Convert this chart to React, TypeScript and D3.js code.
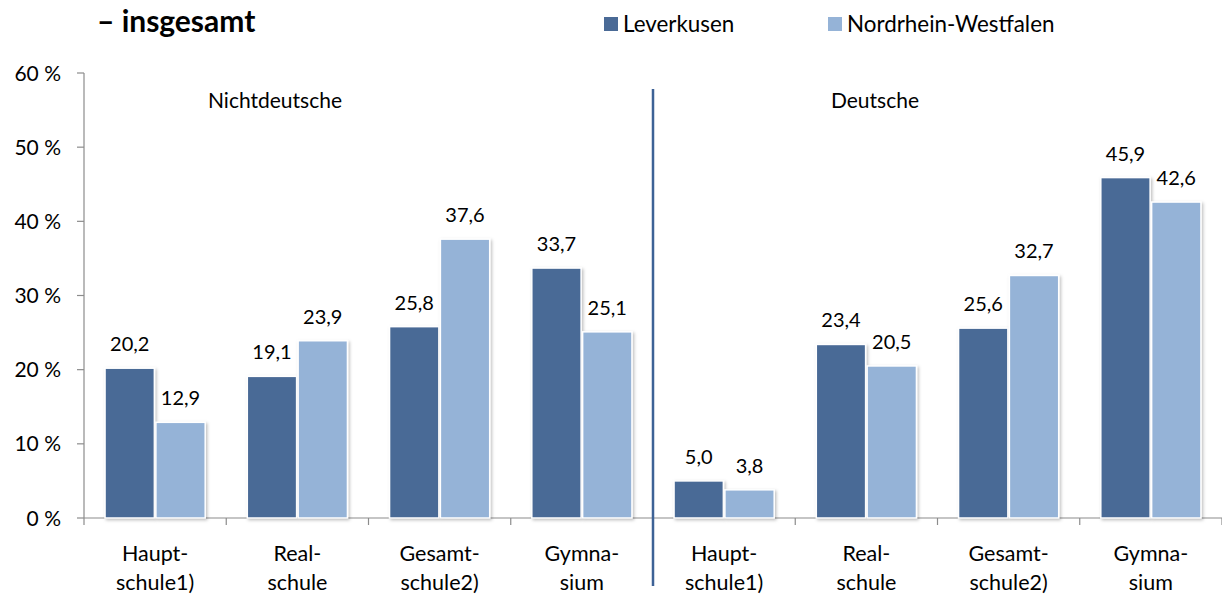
import React from "react";
import * as d3 from "d3";

const categories = ["Haupt-|schule1)", "Real-|schule", "Gesamt-|schule2)", "Gymna-|sium", "Haupt-|schule1)", "Real-|schule", "Gesamt-|schule2)", "Gymna-|sium"];
const leverkusen = [20.2, 19.1, 25.8, 33.7, 5.0, 23.4, 25.6, 45.9];
const nrw = [12.9, 23.9, 37.6, 25.1, 3.8, 20.5, 32.7, 42.6];
const seriesNames = ["Leverkusen", "Nordrhein-Westfalen"];
const yTicks = [0, 10, 20, 30, 40, 50, 60];
const sections = ["Nichtdeutsche", "Deutsche"];
const title = "– insgesamt";

const W = 1222, H = 594;
const colors = ["#4a6a96", "#95b3d7"];
const FONT = "Lato, 'Open Sans', sans-serif";

export default function App() {
  const left = 84, right = 1222, top = 73, bottom = 518;
  const x = d3.scaleBand<number>().domain(d3.range(categories.length)).range([left, right]).paddingInner(0).paddingOuter(0);
  const y = d3.scaleLinear().domain([0, 60]).range([bottom, top]);
  const bwAll = x.bandwidth();
  const inner = d3.scaleBand<number>().domain([0, 1]).range([bwAll * 0.148, bwAll * 0.852]).paddingInner(0.03).paddingOuter(0);
  const series = [leverkusen, nrw];
  const fmt = (v: number) => v.toFixed(1).replace(".", ",");
  const sepX = x(4)!;
  return (
    <svg width={W} height={H} style={{ position: "absolute", left: 0, top: 0, background: "#fff" }} fontFamily={FONT}>
      <defs>
        <filter id="sh" x="-10%" y="-10%" width="130%" height="130%">
          <feDropShadow dx="1.5" dy="1.5" stdDeviation="1.5" floodColor="#000" floodOpacity="0.25" />
        </filter>
      </defs>
      <text x={97} y={32} fontSize={30} fontWeight="bold" fill="#000">{title}</text>
      {seriesNames.map((s, i) => {
        const lx = i === 0 ? 604 : 828;
        return (
          <g key={s}>
            <rect x={lx} y={17} width={14} height={14} fill={colors[i]} />
            <text x={lx + 19} y={32} fontSize={22.4} fill="#000">{s}</text>
          </g>
        );
      })}
      {/* y axis */}
      <line x1={left} x2={left} y1={top} y2={bottom} stroke="#8c8c8c" strokeWidth={1.2} />
      {yTicks.map((t) => (
        <g key={t}>
          <line x1={left - 7} x2={left} y1={y(t)} y2={y(t)} stroke="#8c8c8c" strokeWidth={1.2} />
          <text x={61} y={y(t)} dy="0.36em" textAnchor="end" fontSize={21} fill="#000">{t} %</text>
        </g>
      ))}
      {/* x axis */}
      <line x1={left} x2={right} y1={bottom} y2={bottom} stroke="#8c8c8c" strokeWidth={1.2} />
      {d3.range(categories.length + 1).map((i) => (
        <line key={i} x1={left + i * bwAll} x2={left + i * bwAll} y1={bottom} y2={bottom + 7} stroke="#8c8c8c" strokeWidth={1.2} />
      ))}
      {/* bars */}
      {series.map((vals, si) =>
        vals.map((v, ci) => {
          const bx = x(ci)! + inner(si)!;
          const bw = inner.bandwidth();
          return (
            <g key={`${si}-${ci}`}>
              <rect x={bx} y={y(v)} width={bw} height={bottom - y(v)} fill={colors[si]} stroke="#fff" strokeWidth={1.5} filter="url(#sh)" />
              <text x={bx + bw / 2} y={y(v) - 17} textAnchor="middle" fontSize={20} fill="#000">{fmt(v)}</text>
            </g>
          );
        })
      )}
      {/* category labels */}
      {categories.map((c, i) => {
        const cx = x(i)! + bwAll / 2;
        const lines = c.split("|");
        return (
          <text key={i} textAnchor="middle" fontSize={21.5} fill="#000">
            {lines.map((l, li) => (
              <tspan key={li} x={cx} y={561 + li * 29}>{l}</tspan>
            ))}
          </text>
        );
      })}
      {/* separator */}
      <line x1={sepX} x2={sepX} y1={89} y2={586} stroke="#3d6296" strokeWidth={2.5} />
      <text x={275} y={108} textAnchor="middle" fontSize={21} fill="#000">{sections[0]}</text>
      <text x={875} y={108} textAnchor="middle" fontSize={21} fill="#000">{sections[1]}</text>
    </svg>
  );
}
